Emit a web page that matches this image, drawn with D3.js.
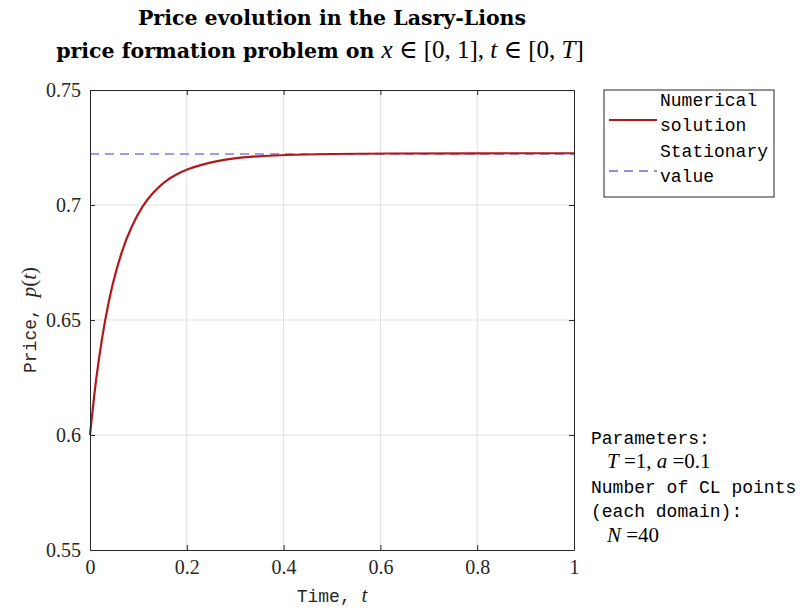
<!DOCTYPE html>
<html>
<head>
<meta charset="utf-8">
<script src="https://cdn.jsdelivr.net/npm/d3@7"></script>
<style>
  body { margin: 0; background: #fff; }
  svg { display: block; }
  .tick text { font-family: 'Liberation Serif', serif; }
  .mono { font-family: 'Liberation Mono', 'DejaVu Sans Mono', monospace; }
  .serif { font-family: 'Liberation Serif', 'DejaVu Serif', serif; }
  .title { font-family: 'DejaVu Serif', serif; }
</style>
</head>
<body>
<svg id="chart"></svg>
<script>
// values
const timeValues = [0, 0.008, 0.018, 0.031, 0.0455, 0.0647, 0.0854, 0.1095, 0.13, 0.154, 0.175,
    0.2, 0.23, 0.262, 0.3, 0.33, 0.4, 0.5, 0.6, 0.8, 1];
const priceValues = [0.6, 0.6164, 0.633, 0.6501, 0.665, 0.6796, 0.6907, 0.7, 0.7055, 0.7101, 0.713,
    0.7155, 0.7175, 0.7191, 0.72035, 0.721, 0.7218, 0.7222, 0.7224, 0.7225, 0.7225];
const stationaryValue = 0.7222;
const xTicks = [0, 0.2, 0.4, 0.6, 0.8, 1];
const yTicks = [0.55, 0.6, 0.65, 0.7, 0.75];
const legendLabels = [['Numerical', 'solution'], ['Stationary', 'value']];

const fullWidth = 800;
const fullHeight = 612;
const margin = {top: 90, right: 226, bottom: 62, left: 90};
const width = fullWidth - margin.left - margin.right;
const height = fullHeight - margin.top - margin.bottom;

const red = '#b2181b';
const blue = '#6b6bdb';

const svg = d3.select('#chart')
    .attr('width', fullWidth)
    .attr('height', fullHeight);

const x = d3.scaleLinear().domain([0, 1]).range([0, width]);
const y = d3.scaleLinear().domain([0.55, 0.75]).range([height, 0]);

const g = svg.append('g')
    .attr('transform', `translate(${margin.left}, ${margin.top})`);

// grid
g.append('g').selectAll('line').data(xTicks.slice(1, -1))
    .enter().append('line')
        .attr('x1', d => x(d)).attr('x2', d => x(d))
        .attr('y1', 0).attr('y2', height)
        .attr('stroke', '#dfdfdf');
g.append('g').selectAll('line').data(yTicks.slice(1, -1))
    .enter().append('line')
        .attr('x1', 0).attr('x2', width)
        .attr('y1', d => y(d)).attr('y2', d => y(d))
        .attr('stroke', '#dfdfdf');

// lines
g.append('line')
    .attr('x1', x(0)).attr('x2', x(1))
    .attr('y1', y(stationaryValue)).attr('y2', y(stationaryValue))
    .attr('stroke', blue)
    .attr('stroke-opacity', 0.9)
    .attr('stroke-width', 1.5)
    .attr('stroke-dasharray', '9,6');

const line = d3.line()
    .x((d, i) => x(timeValues[i]))
    .y(d => y(d))
    .curve(d3.curveBasis);

g.append('path')
    .datum(priceValues)
    .attr('d', line)
    .attr('fill', 'none')
    .attr('stroke', red)
    .attr('stroke-width', 2.2);

// axes (box with inward ticks)
function styleAxis(sel) {
    sel.select('.domain').attr('stroke', '#262626');
    sel.selectAll('.tick line').attr('stroke', '#262626');
    sel.selectAll('.tick text').attr('fill', '#262626').style('font-size', '20px');
}
g.append('g')
    .attr('transform', `translate(0, ${height})`)
    .call(d3.axisBottom(x).tickValues(xTicks).tickFormat(d3.format('')).tickSizeInner(-5).tickSizeOuter(0).tickPadding(10))
    .call(styleAxis);
g.append('g')
    .call(d3.axisTop(x).tickValues(xTicks).tickFormat('').tickSizeInner(-5).tickSizeOuter(0))
    .call(styleAxis);
g.append('g')
    .call(d3.axisLeft(y).tickValues(yTicks).tickFormat(d3.format('')).tickSizeInner(-5).tickSizeOuter(0).tickPadding(9))
    .call(styleAxis);
g.append('g')
    .attr('transform', `translate(${width}, 0)`)
    .call(d3.axisRight(y).tickValues(yTicks).tickFormat('').tickSizeInner(-5).tickSizeOuter(0))
    .call(styleAxis);

// title
const title = svg.append('text')
    .attr('text-anchor', 'middle')
    .attr('fill', '#000');
title.append('tspan').attr('class', 'title').attr('font-weight', 'bold').style('font-size', '20.5px')
    .attr('x', margin.left + width / 2).attr('y', 25).text('Price evolution in the Lasry-Lions');
const t2 = title.append('tspan').attr('x', margin.left + width / 2 - 12).attr('y', 58);
const mathParts = [['price formation problem on  ', 'b'], ['x', 'i'], [' ∈ [0, 1],  ', 'r'],
    ['t', 'i'], [' ∈ [0, ', 'r'], ['T', 'i'], [']', 'r']];
mathParts.forEach(([txt, kind]) => {
    const sp = t2.append('tspan').text(txt);
    if (kind === 'b') {
        sp.attr('class', 'title').attr('font-weight', 'bold').style('font-size', '20.5px');
    } else {
        sp.attr('class', 'serif').style('font-size', '25px')
            .attr('font-style', kind === 'i' ? 'italic' : 'normal');
    }
});

// axis labels
const xLabel = svg.append('text')
    .attr('x', margin.left + width / 2)
    .attr('y', 602)
    .attr('text-anchor', 'middle')
    .attr('fill', '#262626');
xLabel.append('tspan').attr('class', 'mono').style('font-size', '18px').text('Time, ');
xLabel.append('tspan').attr('class', 'serif').attr('font-style', 'italic').style('font-size', '21px').text('t');

const yLabel = svg.append('text')
    .attr('transform', `translate(36, ${margin.top + height / 2}) rotate(-90)`)
    .attr('text-anchor', 'middle')
    .attr('fill', '#262626');
yLabel.append('tspan').attr('class', 'mono').style('font-size', '18px').text('Price, ');
[['p', 'italic'], ['(', 'normal'], ['t', 'italic'], [')', 'normal']].forEach(([txt, st]) => {
    yLabel.append('tspan').attr('class', 'serif').attr('font-style', st).style('font-size', '21px').text(txt);
});

// legend
const legend = svg.append('g').attr('transform', 'translate(604, 90)');
legend.append('rect')
    .attr('width', 170).attr('height', 107)
    .attr('fill', '#fff').attr('stroke', '#262626').attr('stroke-width', 1);
const legendItems = legend.selectAll('.legend-item').data(legendLabels)
    .enter().append('g')
        .attr('class', 'legend-item')
        .attr('transform', (d, i) => `translate(0, ${i * 51})`);
legendItems.append('line')
    .attr('x1', 5).attr('x2', 53)
    .attr('y1', 30).attr('y2', 30)
    .attr('stroke', (d, i) => i === 0 ? red : blue)
    .attr('stroke-width', (d, i) => i === 0 ? 2.2 : 1.5)
    .attr('stroke-dasharray', (d, i) => i === 0 ? null : '9,6');
legendItems.append('text')
    .attr('class', 'mono')
    .style('font-size', '18px')
    .attr('fill', '#000')
    .selectAll('tspan').data(d => d)
    .enter().append('tspan')
        .attr('x', 56)
        .attr('y', (d, i) => 16 + i * 25)
        .text(d => d);

// parameter note
const note = svg.append('g').attr('fill', '#000');
function monoLine(txt, xPos, yPos) {
    note.append('text').attr('class', 'mono').style('font-size', '18px')
        .attr('x', xPos).attr('y', yPos).text(txt);
}
function mathLine(parts, xPos, yPos) {
    const t = note.append('text').attr('class', 'serif').style('font-size', '21px').attr('x', xPos).attr('y', yPos);
    parts.forEach(([txt, it]) => t.append('tspan').attr('font-style', it ? 'italic' : 'normal').text(txt));
}
monoLine('Parameters:', 591, 444);
mathLine([['T', true], [' =1, ', false], ['a', true], [' =0.1', false]], 607, 468);
monoLine('Number of CL points', 591, 493);
monoLine('(each domain):', 591, 517);
mathLine([['N', true], [' =40', false]], 607, 542);
</script>
</body>
</html>
